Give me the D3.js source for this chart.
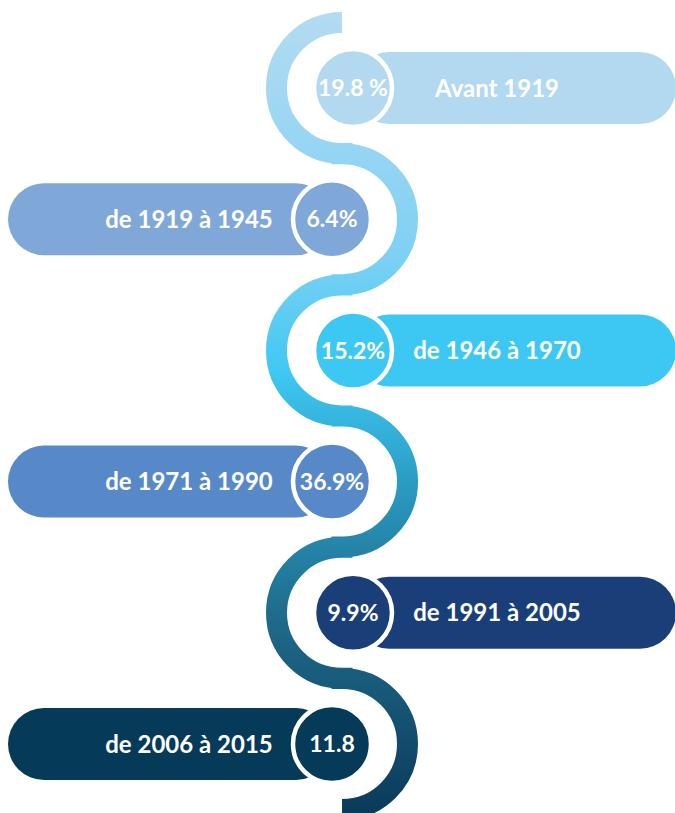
<!DOCTYPE html>
<html>
	<head>
		<meta charset="utf8" />
		<script src="https://cdn.jsdelivr.net/npm/d3@7"></script>
		<style>
			body { margin: 0; background: #fff; }
			text { font-family: Lato, "Open Sans", sans-serif; font-weight: 700; fill: #fff; }
		</style>
	</head>
	<body>
		<script>
			var w = 675;
			var h = 813;

			// periods, top to bottom
			var periods = ["Avant 1919", "de 1919 à 1945", "de 1946 à 1970", "de 1971 à 1990", "de 1991 à 2005", "de 2006 à 2015"];
			var shares = [19.8, 6.4, 15.2, 36.9, 9.9, 11.8];
			var shareLabels = ["19.8 %", "6.4%", "15.2%", "36.9%", "9.9%", "11.8"];
			var colors = ["#b3d9f1", "#7fa8d8", "#3cc8f3", "#5789c8", "#1a3f78", "#053a59"];

			// snake gradient stops (offset, colour)
			var snakeStops = [[0, "#b4dbf2"], [0.3, "#7fd1f4"], [0.45, "#3fc8f2"], [0.58, "#2b9ec6"], [0.75, "#1f6c8c"], [1, "#0b3a5a"]];

			var bendX = 342;
			var bendR = 65.5;
			var barH = 72;
			var circR = 39;

			var y = d3.scalePoint()
				.domain(periods)
				.range([88, 744]);

			var svg = d3.select("body")
				.append("svg")
				.attr("width", w)
				.attr("height", h);

			var grad = svg.append("defs")
				.append("linearGradient")
				.attr("id", "snake")
				.attr("gradientUnits", "userSpaceOnUse")
				.attr("x1", 0).attr("x2", 0)
				.attr("y1", 12).attr("y2", 813);
			grad.selectAll("stop")
				.data(snakeStops)
				.enter()
				.append("stop")
				.attr("offset", function(d) { return d[0]; })
				.attr("stop-color", function(d) { return d[1]; });

			// the S-shaped band: one half circle per period, alternating sides
			var p = d3.path();
			p.moveTo(bendX, y(periods[0]) - bendR);
			periods.forEach(function(d, i) {
				p.arc(bendX, y(d), bendR, -Math.PI / 2, Math.PI / 2, i % 2 == 0);
			});
			svg.append("path")
				.attr("d", p.toString())
				.attr("fill", "none")
				.attr("stroke", "url(#snake)")
				.attr("stroke-width", 21);

			var isRight = function(i) { return i % 2 == 0; };
			var circX = function(i) { return isRight(i) ? 353 : 332; };

			var rows = svg.selectAll("g.row")
				.data(periods)
				.enter()
				.append("g")
				.attr("class", "row");

			rows.append("rect")
				.attr("x", function(d, i) { return isRight(i) ? circX(i) : 8; })
				.attr("width", function(d, i) { return isRight(i) ? 676 - circX(i) : circX(i) - 8; })
				.attr("y", function(d) { return y(d) - barH / 2; })
				.attr("height", barH)
				.attr("rx", barH / 2)
				.attr("fill", function(d, i) { return colors[i]; });

			rows.append("circle")
				.attr("cx", function(d, i) { return circX(i); })
				.attr("cy", function(d) { return y(d); })
				.attr("r", circR)
				.attr("fill", function(d, i) { return colors[i]; })
				.attr("stroke", "#fff")
				.attr("stroke-width", 4.5);

			rows.append("text")
				.attr("x", function(d, i) { return circX(i); })
				.attr("y", function(d) { return y(d); })
				.attr("dy", "0.36em")
				.attr("text-anchor", "middle")
				.style("font-size", "23px")
				.text(function(d, i) { return shareLabels[i]; });

			rows.append("text")
				.attr("x", function(d, i) { return isRight(i) ? 497 : 189; })
				.attr("y", function(d) { return y(d); })
				.attr("dy", "0.36em")
				.attr("text-anchor", "middle")
				.style("font-size", "24px")
				.text(function(d) { return d; });
		</script>
	</body>
</html>
